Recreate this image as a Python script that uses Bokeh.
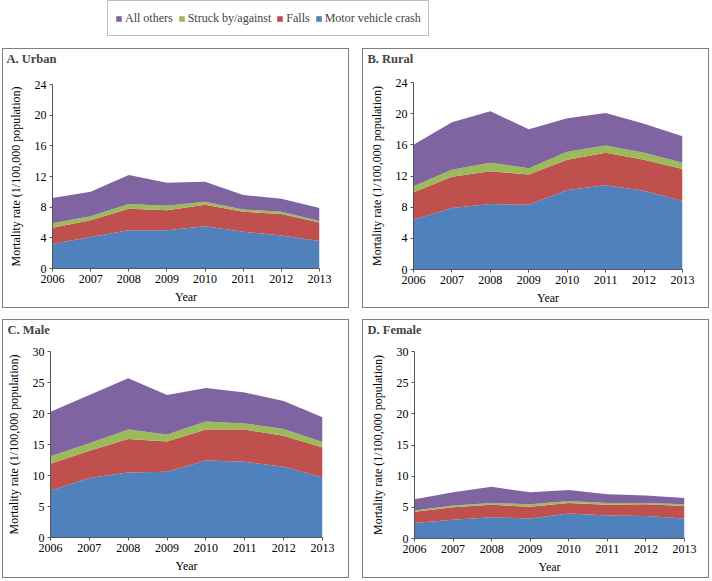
from bokeh.plotting import figure
from bokeh.models import ColumnDataSource, Range1d, FixedTicker, Legend, LegendItem, Spacer
from bokeh.layouts import column, row
from bokeh.embed import file_html
from bokeh.resources import INLINE

years = [2006, 2007, 2008, 2009, 2010, 2011, 2012, 2013]
series_names = ["Motor vehicle crash", "Falls", "Struck by/against", "All others"]
colors = ["#4F81BD", "#C0504D", "#9BBB59", "#8064A2"]

urban_motor = [3.2, 4.1, 5.0, 5.0, 5.5, 4.8, 4.3, 3.6]
urban_falls = [2.1, 2.2, 2.8, 2.6, 2.8, 2.6, 2.8, 2.4]
urban_struck = [0.6, 0.5, 0.6, 0.6, 0.4, 0.3, 0.3, 0.2]
urban_others = [3.3, 3.2, 3.8, 3.0, 2.6, 1.9, 1.7, 1.7]

rural_motor = [6.4, 7.9, 8.4, 8.3, 10.2, 10.8, 10.1, 8.8]
rural_falls = [3.5, 4.0, 4.2, 3.9, 3.9, 4.2, 4.0, 4.1]
rural_struck = [0.8, 0.9, 1.1, 0.8, 1.0, 0.9, 0.9, 0.8]
rural_others = [5.3, 6.1, 6.6, 5.0, 4.3, 4.2, 3.7, 3.4]

male_motor = [7.6, 9.6, 10.5, 10.6, 12.4, 12.2, 11.4, 9.7]
male_falls = [4.3, 4.4, 5.4, 4.9, 5.0, 5.2, 5.0, 4.8]
male_struck = [1.2, 1.2, 1.5, 1.1, 1.3, 1.0, 1.1, 0.9]
male_others = [7.2, 7.8, 8.3, 6.4, 5.4, 5.0, 4.5, 4.0]

female_motor = [2.5, 3.0, 3.4, 3.2, 4.0, 3.7, 3.6, 3.2]
female_falls = [1.8, 2.0, 2.0, 1.9, 1.7, 1.7, 1.9, 2.0]
female_struck = [0.2, 0.3, 0.3, 0.4, 0.3, 0.3, 0.2, 0.3]
female_others = [1.8, 2.1, 2.6, 1.9, 1.8, 1.4, 1.2, 1.0]

top_ticks = [0, 4, 8, 12, 16, 20, 24]
bottom_ticks = [0, 5, 10, 15, 20, 25, 30]

FONT = "Liberation Serif"
BORDER = "#7f7f7f"
AXIS_C = "#555555"
TITLE_H = 17


def panel(title, motor, falls, struck, others, ticks, width, height,
          bl, br, bt, bb, title_dx):
    # title strip (its frame is aligned with the chart frame below it)
    tf = figure(width=width, height=TITLE_H, output_backend="svg", toolbar_location=None,
                x_range=Range1d(0, 1), y_range=Range1d(0, 1), min_border=0,
                x_axis_type=None, y_axis_type=None)
    tf.grid.visible = False
    tf.outline_line_color = None
    tf.title.text = title
    tf.title.text_font = FONT
    tf.title.text_font_size = "12.5px"
    tf.title.text_font_style = "bold"
    tf.title.align = "left"
    tf.title.offset = title_dx
    tf.title.standoff = 0

    src = ColumnDataSource(dict(year=years, motor=motor, falls=falls,
                                struck=struck, others=others))
    p = figure(width=width, height=height - TITLE_H, output_backend="svg",
               toolbar_location=None,
               x_range=Range1d(years[0], years[-1]), y_range=Range1d(ticks[0], ticks[-1]),
               min_border_left=bl, min_border_right=br, min_border_top=bt,
               min_border_bottom=bb, background_fill_color="white",
               border_fill_color="white")
    p.varea_stack(stackers=["motor", "falls", "struck", "others"], x="year",
                  color=colors, source=src)
    p.grid.visible = False
    p.outline_line_color = None
    p.xaxis.ticker = FixedTicker(ticks=years)
    p.yaxis.ticker = FixedTicker(ticks=ticks)
    p.xaxis.axis_label = "Year"
    p.yaxis.axis_label = "Mortality rate (1/100,000 population)"
    for ax in (p.xaxis[0], p.yaxis[0]):
        ax.axis_line_color = AXIS_C
        ax.major_tick_line_color = AXIS_C
        ax.major_tick_out = 3
        ax.major_tick_in = 0
        ax.minor_tick_line_color = None
        ax.major_label_text_font = FONT
        ax.major_label_text_font_size = "12px"
        ax.major_label_text_color = "black"
        ax.axis_label_text_font = FONT
        ax.axis_label_text_font_size = "12px"
        ax.axis_label_text_font_style = "normal"
        ax.axis_label_text_color = "black"
        ax.major_label_standoff = 3
    p.yaxis.axis_label_standoff = 9
    p.xaxis.axis_label_standoff = 4
    return column(tf, p, styles={"border": "1px solid " + BORDER})


# inner sizes (inside the 1px panel border)
pa = panel("A. Urban", urban_motor, urban_falls, urban_struck, urban_others, top_ticks,
           345, 258, 49, 29, 18, 39, -46)
pb = panel("B. Rural", rural_motor, rural_falls, rural_struck, rural_others, top_ticks,
           345, 258, 50, 26, 16, 38, -46)
pc = panel("C. Male", male_motor, male_falls, male_struck, male_others, bottom_ticks,
           345, 257, 47, 26, 14, 40, -43)
pd = panel("D. Female", female_motor, female_falls, female_struck, female_others, bottom_ticks,
           345, 257, 51, 24, 14, 39, -47)

# legend strip
lg = figure(width=709, height=48, output_backend="svg", toolbar_location=None,
            x_range=Range1d(0, 1), y_range=Range1d(0, 1), min_border=0,
            x_axis_type=None, y_axis_type=None)
lg.grid.visible = False
lg.outline_line_color = None
items = []
for name, col in reversed(list(zip(series_names, colors))):
    r = lg.varea(x=[5, 6], y1=[5, 5], y2=[6, 6], color=col)
    items.append(LegendItem(label=name, renderers=[r]))
leg = Legend(items=items, orientation="horizontal", location=(107, 12),
             border_line_color=BORDER, border_line_width=1,
             label_text_font=FONT, label_text_font_size="12px",
             glyph_width=7, glyph_height=7, label_standoff=3, spacing=5,
             padding=7, margin=0, label_height=20)
lg.add_layout(leg, "center")

layout = column(
    lg,
    row(Spacer(width=2), pa, Spacer(width=13), pb),
    Spacer(height=11),
    row(Spacer(width=2), pc, Spacer(width=13), pd),
)

open("out.html", "w").write(file_html(layout, INLINE))
